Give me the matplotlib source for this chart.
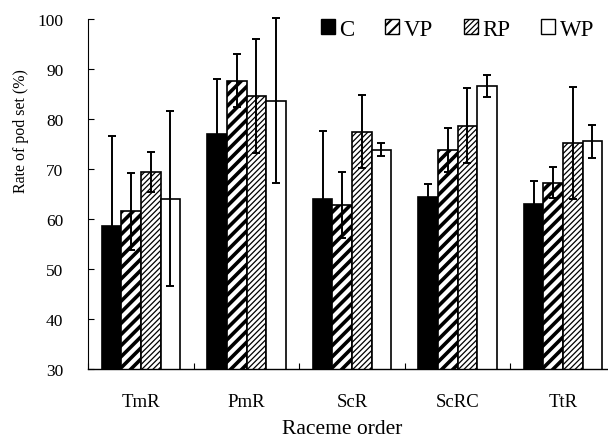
import numpy as np
import matplotlib
matplotlib.use('Agg')
import matplotlib.pyplot as plt
from matplotlib.patches import Patch

plt.rcParams['font.family'] = ['Liberation Serif', 'DejaVu Serif']

groups = ['TmR', 'PmR', 'ScR', 'ScRC', 'TtR']
series = ['C', 'VP', 'RP', 'WP']
C = [58.7, 77.1, 64.0, 64.5, 63.1]
C_err = [18.0, 11.0, 13.7, 2.5, 4.6]
VP = [61.6, 87.7, 62.8, 73.9, 67.3]
VP_err = [7.7, 5.3, 6.6, 4.4, 3.1]
RP = [69.4, 84.7, 77.5, 78.7, 75.3]
RP_err = [4.0, 11.4, 7.3, 7.5, 11.2]
WP = [64.1, 83.7, 73.9, 86.6, 75.6]
WP_err = [17.5, 16.5, 1.3, 2.2, 3.3]

values = [C, VP, RP, WP]
errors = [C_err, VP_err, RP_err, WP_err]
faces = ['black', 'white', 'white', 'white']
hatches = [None, '///', '//////', None]
hatch_lw = [1.0, 2.6, 0.9, 1.0]

fig = plt.figure(figsize=(6.08, 4.39), dpi=100)
ax = fig.add_axes([88.3 / 608, 69 / 439, 527.5 / 608, 350 / 439])

x = np.arange(len(groups))
w = 0.186
for k in range(4):
    pos = x + (k - 1.5) * w
    bars = ax.bar(pos, values[k], w, bottom=0, color=faces[k], edgecolor='black',
                  linewidth=1.2, hatch=hatches[k], zorder=2)
    for b in bars:
        if hasattr(b, 'set_hatch_linewidth'):
            b.set_hatch_linewidth(hatch_lw[k])
    ax.errorbar(pos, values[k], yerr=errors[k], fmt='none', ecolor='black',
                elinewidth=1.4, capsize=3.2, capthick=1.4, zorder=3, clip_on=False)

ax.set_ylim(30, 100)
ax.set_xlim(-0.5, 4.5)
ax.set_yticks(np.arange(30, 101, 10))
ax.set_xticks(np.arange(-0.5, 5, 1))
ax.set_xticklabels([])
ax.set_xticks(x, minor=True)
ax.set_xticklabels(groups, minor=True, fontsize=13.5)
ax.tick_params(axis='x', which='major', direction='in', length=4, width=0.8)
ax.tick_params(axis='x', which='minor', length=0, pad=17)
ax.tick_params(axis='y', direction='in', length=4, width=0.8, pad=18, labelsize=12.5)
for s in ['top', 'right']:
    ax.spines[s].set_visible(False)
ax.spines['left'].set_linewidth(0.8)
ax.spines['bottom'].set_linewidth(1.0)

ax.set_xlabel('Raceme order', fontsize=15.5)
ax.xaxis.set_label_coords(0.482, -0.142)
ax.set_ylabel('Rate of pod set (%)', fontsize=11.5)
ax.yaxis.set_label_coords(-0.112, 0.683)

handles = []
for k in range(4):
    p = Patch(facecolor=faces[k], edgecolor='black', hatch=hatches[k], linewidth=1.0)
    handles.append(p)
leg = fig.legend(handles, series, loc='center left', bbox_to_anchor=(321 / 608, 1 - 30 / 439),
                 ncol=4, frameon=False, fontsize=16.5, handlelength=0.6, handleheight=0.6,
                 handletextpad=0.2, columnspacing=1.35, borderpad=0, borderaxespad=0)
for k, h in enumerate(leg.legend_handles):
    if hasattr(h, 'set_hatch_linewidth'):
        h.set_hatch_linewidth(min(hatch_lw[k], 1.5))

fig.savefig('out.png', dpi=100)
